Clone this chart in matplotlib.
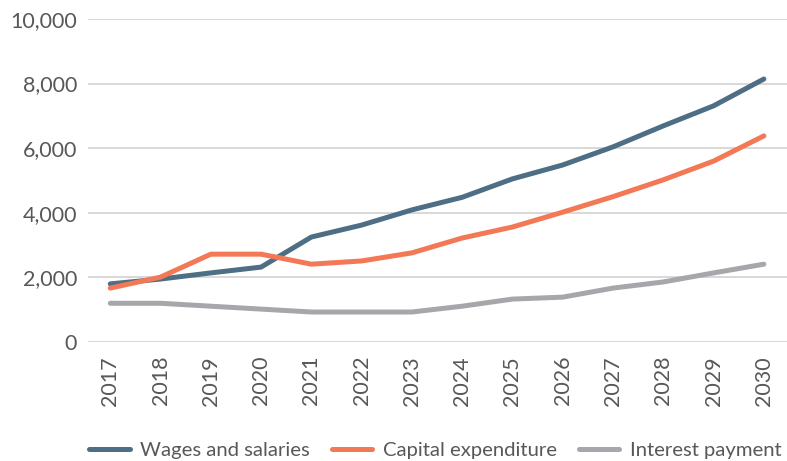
import matplotlib.pyplot as plt
from matplotlib.ticker import FuncFormatter

plt.rcParams['font.family'] = ['Lato', 'DejaVu Sans']

years = list(range(2017, 2031))
wages = [1800, 1950, 2140, 2320, 3250, 3620, 4090, 4480, 5050, 5480, 6040, 6690, 7310, 8140]
capex = [1670, 2010, 2720, 2720, 2410, 2510, 2760, 3220, 3560, 4020, 4500, 5020, 5600, 6380]
interest = [1200, 1200, 1110, 1020, 930, 930, 930, 1110, 1330, 1390, 1670, 1860, 2140, 2410]

fig = plt.figure(figsize=(7.87, 4.61), dpi=100)
ax = fig.add_axes([0.112, 0.258, 0.888, 0.701])

ax.plot(years, wages, color='#4d6e84', lw=3.6, solid_capstyle='round', label='Wages and salaries')
ax.plot(years, capex, color='#f37856', lw=3.6, solid_capstyle='round', label='Capital expenditure')
ax.plot(years, interest, color='#a6a7ab', lw=3.6, solid_capstyle='round', label='Interest payment')

ax.set_xlim(2016.56, 2030.46)
ax.set_ylim(0, 10000)
ax.set_yticks(range(0, 10001, 2000))
ax.yaxis.set_major_formatter(FuncFormatter(lambda v, p: f'{int(v):,}'))
ax.set_xticks(years)
ax.set_xticklabels([str(y) for y in years], rotation=90)

ax.grid(axis='y', color='#d5d5d7', lw=1.3)
ax.set_axisbelow(True)
for s in ax.spines.values():
    s.set_visible(False)
ax.tick_params(length=0, labelsize=15.5, colors='#58585a', pad=8)
ax.tick_params(axis='x', pad=10)

fig.legend(loc='lower center', bbox_to_anchor=(0.553, -0.035), ncol=3, frameon=False,
           fontsize=14.6, labelcolor='#58585a', handlelength=2.0, columnspacing=1.1,
           handletextpad=0.5)

fig.savefig('out.png', dpi=100)
